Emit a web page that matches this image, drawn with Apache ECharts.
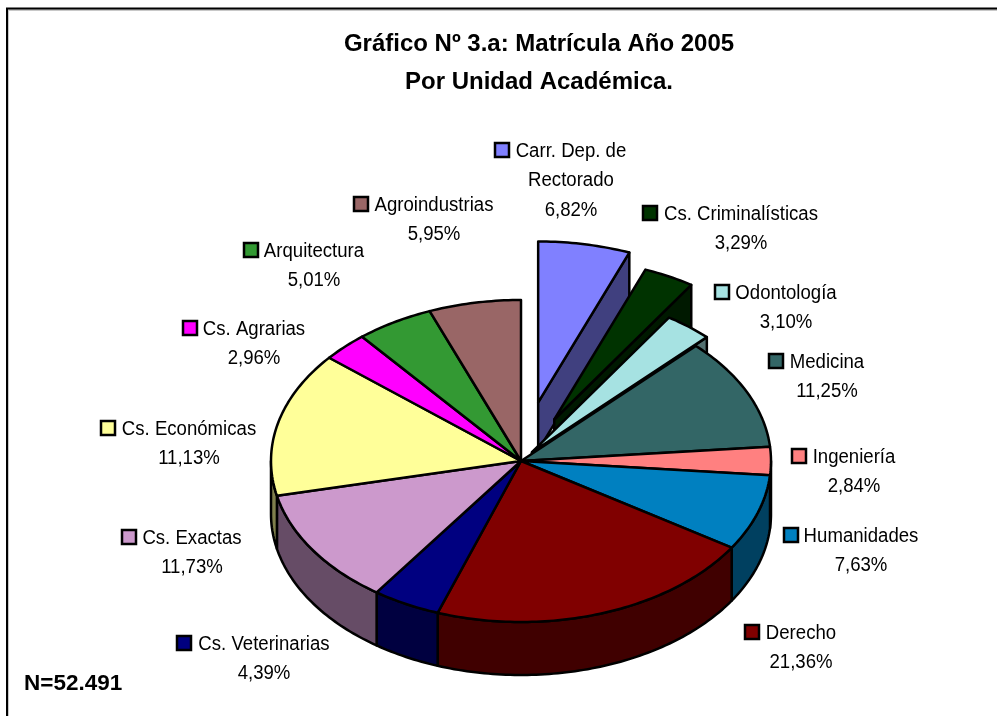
<!DOCTYPE html>
<html>
<head>
<meta charset="utf-8">
<title>Matricula 2005</title>
<style>
  html,body{margin:0;padding:0;background:#fff;}
  #chart{width:997px;height:716px;}
</style>
<script src="https://cdn.jsdelivr.net/npm/echarts@6/dist/echarts.min.js"></script>
</head>
<body>
<div id="chart"></div>
<script>
// unidades academicas, en el orden del grafico (horario desde las 12)
var categories = ['Carr. Dep. de\nRectorado', 'Cs. Criminalísticas', 'Odontología', 'Medicina', 'Ingeniería',
  'Humanidades', 'Derecho', 'Cs. Veterinarias', 'Cs. Exactas', 'Cs. Económicas', 'Cs. Agrarias',
  'Arquitectura', 'Agroindustrias'];
// porcentaje impreso en cada etiqueta
var printedShares = ['6,82%', '3,29%', '3,10%', '11,25%', '2,84%', '7,63%', '21,36%', '4,39%', '11,73%',
  '11,13%', '2,96%', '5,01%', '5,95%'];
// tamano de cada porcion tal como esta dibujada (Carr. y Cs. Economicas no coinciden con su etiqueta)
var sliceShares = [5.94, 3.29, 3.10, 11.25, 2.84, 7.63, 21.36, 4.39, 11.73, 14.55, 2.96, 5.01, 5.95];
var sliceColors = ['#8080FF', '#003300', '#A6E2E2', '#336666', '#FF8080', '#0080C0', '#800000', '#000080',
  '#CC99CC', '#FFFF99', '#FF00FF', '#339933', '#996666'];
var explode = [0.37, 0.29, 0.07, 0, 0, 0, 0, 0, 0, 0, 0, 0, 0];

var cx = 521, cy = 461, rx = 250, ry = 161;
// [centro del texto, y de la primera linea, x del cuadrito]
var labelPos = [[571, 150, 502], [741, 213, 650], [786, 292, 722], [827, 361, 776], [854, 456, 799],
  [861, 535, 791], [801, 632, 752], [264, 643, 184], [192, 537, 129], [189, 428, 108], [254, 328, 190],
  [314, 250, 251], [434, 204, 361]];
var lineGap = 29.5;
var fontName = '"Liberation Sans", Arial, sans-serif';

var total = 0;
sliceShares.forEach(function (v) { total += v; });

function halfColor(hex) {
  var n = parseInt(hex.slice(1), 16);
  return 'rgb(' + ((n >> 16) >> 1) + ',' + (((n >> 8) & 255) >> 1) + ',' + ((n & 255) >> 1) + ')';
}
function point(deg, ox, oy, dz) {
  var a = deg * Math.PI / 180;
  return [ox + rx * Math.sin(a), oy - ry * Math.cos(a) + dz];
}
function arcPoints(from, to, ox, oy, dz) {
  var pts = [], n = Math.max(2, Math.ceil(Math.abs(to - from)));
  for (var k = 0; k <= n; k++) {
    pts.push(point(from + (to - from) * k / n, ox, oy, dz));
  }
  return pts;
}

function renderSlice(params, api) {
  var i = params.dataIndex, start = 0;
  for (var j = 0; j < i; j++) start += sliceShares[j] / total * 360;
  var end = start + api.value(0) / total * 360;
  var mid = (start + end) / 2 * Math.PI / 180;
  var ox = cx + explode[i] * rx * Math.sin(mid), oy = cy - explode[i] * ry * Math.cos(mid);
  // las porciones separadas quedan mas lejos, se ven un poco menos altas
  var depth = explode[i] > 0 ? 48 : 53;
  var color = sliceColors[i], dark = halfColor(color);
  var line = { stroke: '#000', lineWidth: 2.5, lineJoin: 'round' };
  var kids = [];

  // cara del corte, solo se ve en las porciones separadas
  if (explode[i] > 0) {
    var p = point(end, ox, oy, 0);
    kids.push({
      type: 'polygon',
      shape: { points: [[ox, oy], p, [p[0], p[1] + depth], [ox, oy + depth]] },
      style: Object.assign({ fill: dark }, line)
    });
  }
  // pared exterior, entre 90 y 270 grados mira al frente
  var a = Math.max(start, 90), b = Math.min(end, 270);
  if (b > a) {
    kids.push({
      type: 'polygon',
      shape: { points: arcPoints(a, b, ox, oy, 0).concat(arcPoints(b, a, ox, oy, depth)) },
      style: Object.assign({ fill: dark }, line)
    });
  }
  kids.push({
    type: 'polygon',
    shape: { points: [[ox, oy]].concat(arcPoints(start, end, ox, oy, 0)) },
    style: Object.assign({ fill: color }, line)
  });
  return { type: 'group', children: kids };
}

function renderLabel(params) {
  var i = params.dataIndex, pos = labelPos[i];
  var lines = categories[i].split('\n').concat(printedShares[i]);
  var kids = [{
    type: 'rect',
    shape: { x: pos[2] - 7, y: pos[1] - 7, width: 14, height: 14 },
    style: { fill: sliceColors[i], stroke: '#000', lineWidth: 2.5 }
  }];
  lines.forEach(function (txt, k) {
    // el original usa una Arial mas angosta
    kids.push({
      type: 'text',
      x: pos[0], y: pos[1] + 1 + k * lineGap, scaleX: 0.93,
      style: {
        x: 0, y: 0, text: txt,
        font: '20px ' + fontName, fill: '#000', align: 'center', verticalAlign: 'middle'
      }
    });
  });
  return { type: 'group', children: kids };
}

var chart = echarts.init(document.getElementById('chart'), null, { width: 997, height: 716 });
chart.setOption({
  animation: false,
  backgroundColor: '#fff',
  title: {
    text: 'Gráfico Nº 3.a: Matrícula Año 2005\nPor Unidad Académica.',
    left: 534, top: 20, textAlign: 'center',
    textStyle: { fontFamily: fontName, fontWeight: 'bold', fontSize: 24, lineHeight: 38, color: '#000' }
  },
  graphic: [
    // marco: solo arriba y a la izquierda, con su sombra gris
    { type: 'polyline', z: 0, shape: { points: [[8, 716], [8, 10], [997, 10]] }, style: { fill: 'none', stroke: '#c8c8c8', lineWidth: 2 } },
    { type: 'polyline', z: 0, shape: { points: [[7, 716], [7, 8.5], [997, 8.5]] }, style: { fill: 'none', stroke: '#000', lineWidth: 2 } },
    {
      type: 'text', z: 5,
      style: { x: 24, y: 684, text: 'N=52.491', font: 'bold 22.5px ' + fontName, fill: '#000', verticalAlign: 'middle' }
    }
  ],
  series: [
    { type: 'custom', coordinateSystem: 'none', data: sliceShares, renderItem: renderSlice, silent: true },
    { type: 'custom', coordinateSystem: 'none', data: printedShares.map(function (s, i) { return i; }), renderItem: renderLabel, silent: true }
  ]
});
</script>
</body>
</html>
